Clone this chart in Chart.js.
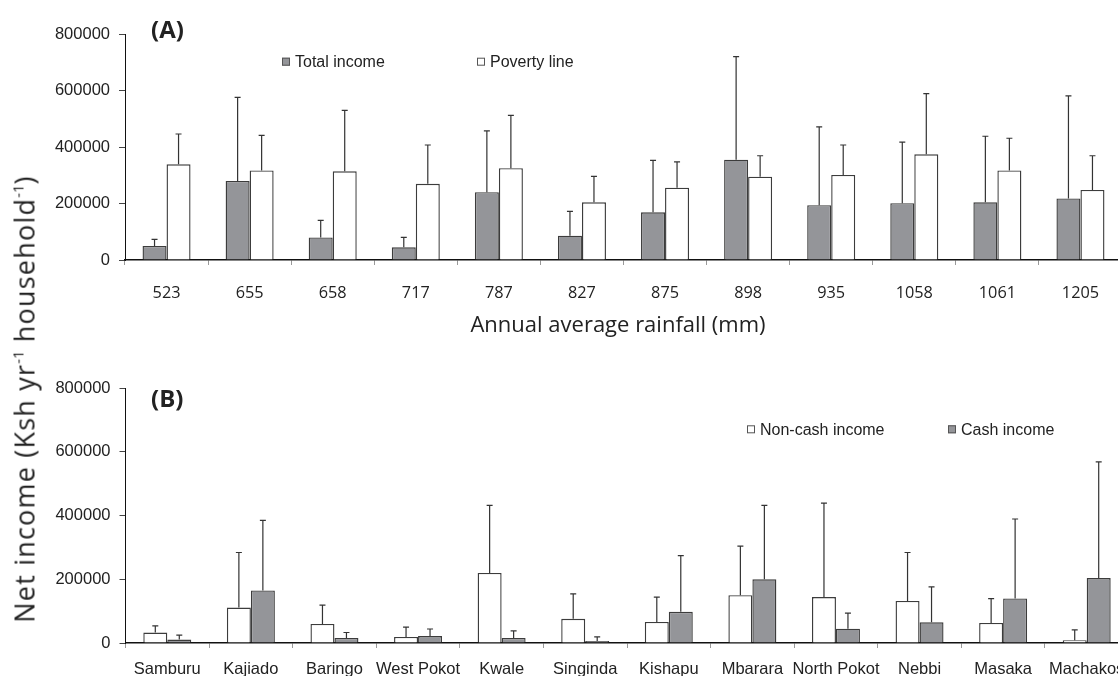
<!DOCTYPE html>
<html>
<head>
<meta charset="utf-8">
<script src="https://cdn.jsdelivr.net/npm/chart.js@4/dist/chart.umd.min.js"></script>
<style>
  html, body { margin: 0; padding: 0; background: #fff; width: 1118px; height: 676px; overflow: hidden; }
  #wrap { position: relative; width: 1118px; height: 676px; overflow: hidden; }
  .panel { position: absolute; left: 0; }
  #panelA { top: 0; width: 1140px; height: 345px; }
  #panelB { top: 350px; width: 1150px; height: 340px; }
  #ytitle {
    position: absolute; left: 24px; top: 399px;
    transform: translate(-50%, -50%) rotate(-90deg);
    white-space: nowrap; font-family: "Open Sans", sans-serif; font-size: 27px;
    letter-spacing: 1.2px; color: #222;
  }
  #ytitle sup { font-size: 15px; vertical-align: 11px; line-height: 0; letter-spacing: 0; }
</style>
</head>
<body>
<div id="wrap">
  <div class="panel" id="panelA"><canvas id="chartA" width="1140" height="345"></canvas></div>
  <div class="panel" id="panelB"><canvas id="chartB" width="1150" height="340"></canvas></div>
  <div id="ytitle">Net income (Ksh yr<sup>-1</sup> household<sup>-1</sup>)</div>
</div>
<script>
// Panel A: income vs poverty line across rainfall zones
const rainfall = ['523', '655', '658', '717', '787', '827', '875', '898', '935', '1058', '1061', '1205'];
const totalIncome = [50000, 280000, 80000, 45000, 240000, 86000, 169000, 355000, 194000, 201000, 204000, 218000];
const totalIncomeUpper = [73000, 576000, 140000, 80000, 457000, 172000, 353000, 720000, 471000, 417000, 438000, 581000];
const povertyLine = [339000, 317000, 314000, 270000, 325000, 204000, 256000, 295000, 301000, 374000, 317000, 248000];
const povertyLineUpper = [446000, 441000, 530000, 407000, 512000, 296000, 347000, 369000, 407000, 589000, 431000, 369000];

// Panel B: non-cash and cash income by district
const districts = ['Samburu', 'Kajiado', 'Baringo', 'West Pokot', 'Kwale', 'Singinda', 'Kishapu', 'Mbarara', 'North Pokot', 'Nebbi', 'Masaka', 'Machakos'];
const nonCashIncome = [33000, 111000, 60000, 19000, 220000, 76000, 66000, 150000, 144000, 132000, 63000, 9000];
const nonCashIncomeUpper = [54000, 284000, 119000, 50000, 432000, 154000, 144000, 304000, 439000, 284000, 139000, 41000];
const cashIncome = [11000, 165000, 16000, 22000, 16000, 6000, 98000, 200000, 45000, 65000, 140000, 204000];
const cashIncomeUpper = [25000, 385000, 33000, 44000, 38000, 19000, 274000, 432000, 94000, 176000, 389000, 568000];

const yTickValues = [0, 200000, 400000, 600000, 800000];

const GREY = '#949599';
const EDGE = '#3c3c3c';
const TEXT = '#222';
const ARIAL = '"Liberation Sans", Arial, sans-serif';
const CALIBRI = '"Open Sans", sans-serif';

// Upward error bars, drawn from each bar's top to its upper value
const errorBars = {
  id: 'errorBars',
  afterDatasetsDraw(chart) {
    const ctx = chart.ctx;
    const y = chart.scales.y;
    ctx.save();
    ctx.strokeStyle = '#333';
    ctx.lineWidth = 1.2;
    chart.data.datasets.forEach((ds, di) => {
      const meta = chart.getDatasetMeta(di);
      meta.data.forEach((bar, i) => {
        const top = y.getPixelForValue(ds.upper[i]);
        ctx.beginPath();
        ctx.moveTo(bar.x, bar.y);
        ctx.lineTo(bar.x, top);
        ctx.moveTo(bar.x - 3, top);
        ctx.lineTo(bar.x + 3, top);
        ctx.stroke();
      });
    });
    ctx.restore();
  }
};

// Small inline legend, the panel letter and (optionally) the axis caption
const panelDecor = {
  id: 'panelDecor',
  afterDraw(chart, args, opts) {
    const ctx = chart.ctx;
    ctx.save();
    ctx.font = 'bold 24px ' + CALIBRI;
    ctx.fillStyle = TEXT;
    ctx.textBaseline = 'alphabetic';
    ctx.textAlign = 'left';
    ctx.fillText(opts.letter, opts.letterX, opts.letterY);

    if (opts.caption) {
      ctx.font = '22px ' + CALIBRI;
      ctx.textAlign = 'center';
      ctx.fillText(opts.caption, opts.captionX, opts.captionY);
      ctx.textAlign = 'left';
    }

    ctx.font = '16px ' + ARIAL;
    ctx.textBaseline = 'middle';
    chart.data.datasets.forEach((ds, i) => {
      const x = opts.legendX[i];
      const yc = opts.legendY;
      ctx.fillStyle = ds.backgroundColor;
      ctx.fillRect(x, yc - 4, 8, 8);
      ctx.strokeStyle = '#555';
      ctx.lineWidth = 1;
      ctx.strokeRect(x + 0.5, yc - 3.5, 7, 7);
      ctx.fillStyle = TEXT;
      ctx.fillText(ds.label, x + 13, yc + 1);
    });
    ctx.restore();
  }
};

function makeChart(canvasId, labels, sets, cfg) {
  return new Chart(document.getElementById(canvasId), {
    type: 'bar',
    data: {
      labels: labels,
      datasets: sets.map(s => ({
        label: s.label,
        data: s.data,
        upper: s.upper,
        backgroundColor: s.fill,
        borderColor: EDGE,
        borderWidth: 1.4,
        borderSkipped: 'bottom',
        categoryPercentage: cfg.catPct,
        barPercentage: 1
      }))
    },
    options: {
      responsive: false,
      animation: false,
      events: [],
      layout: { padding: { left: 0, top: cfg.padTop, right: cfg.padRight, bottom: 0 } },
      plugins: {
        legend: { display: false },
        tooltip: { enabled: false },
        panelDecor: cfg.decor
      },
      scales: {
        x: {
          grid: { display: true, drawOnChartArea: false, drawTicks: true, tickLength: 5, color: '#999', offset: true },
          border: { display: true, color: '#111', width: 1.5 },
          ticks: {
            autoSkip: false, maxRotation: 0, minRotation: 0,
            padding: cfg.tickPad, color: TEXT,
            font: { family: cfg.xFont, size: cfg.xSize }
          },
          afterFit(scale) { scale.height = cfg.xHeight; }
        },
        y: {
          min: 0, max: 800000,
          grid: { display: true, drawOnChartArea: false, drawTicks: true, tickLength: 6, color: '#444' },
          border: { display: true, color: '#111', width: 1 },
          ticks: {
            padding: 9, color: TEXT,
            font: { family: ARIAL, size: 16.5 },
            callback: v => String(v)
          },
          afterBuildTicks(scale) { scale.ticks = yTickValues.map(v => ({ value: v })); },
          afterFit(scale) { scale.width = cfg.yWidth; }
        }
      }
    },
    plugins: [errorBars, panelDecor]
  });
}

makeChart('chartA', rainfall, [
  { label: 'Total income', data: totalIncome, upper: totalIncomeUpper, fill: GREY },
  { label: 'Poverty line', data: povertyLine, upper: povertyLineUpper, fill: '#ffffff' }
], {
  catPct: 0.578, padTop: 34, padRight: 18, yWidth: 125, xHeight: 85, tickPad: 19,
  xFont: CALIBRI, xSize: 16.3,
  decor: { letter: '(A)', letterX: 151, letterY: 38, legendX: [282, 477], legendY: 61.7,
           caption: 'Annual average rainfall (mm)', captionX: 618, captionY: 332 }
});

makeChart('chartB', districts, [
  { label: 'Non-cash income', data: nonCashIncome, upper: nonCashIncomeUpper, fill: '#ffffff' },
  { label: 'Cash income', data: cashIncome, upper: cashIncomeUpper, fill: GREY }
], {
  catPct: 0.574, padTop: 38, padRight: 21.5, yWidth: 125.5, xHeight: 47, tickPad: 12,
  xFont: ARIAL, xSize: 16.5,
  decor: { letter: '(B)', letterX: 151, letterY: 57, legendX: [747, 948], legendY: 79.3 }
});
</script>
</body>
</html>
